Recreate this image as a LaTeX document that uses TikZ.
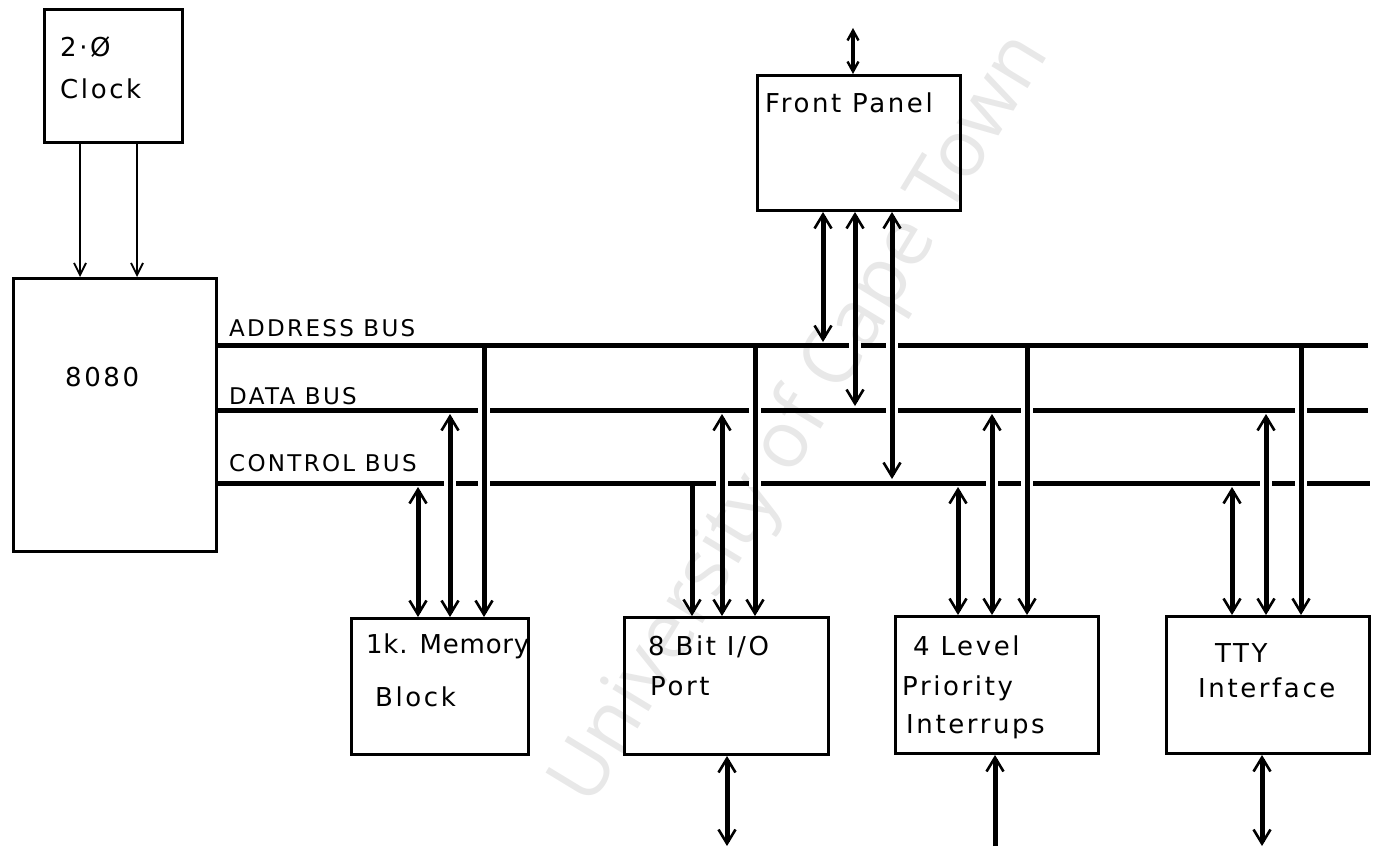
\documentclass[tikz,border=0pt]{standalone}
\usepackage{fontspec}
\setmainfont{DejaVu Sans}[LetterSpace=10]
\newfontfamily\wmfont{Open Sans}
\usetikzlibrary{arrows.meta}
\tikzset{
  box/.style={draw=black, line width=3pt, anchor=north west, inner sep=0pt},
  txt/.style={anchor=base west, inner sep=0pt, font=\fontsize{26}{30}\selectfont},
  buslbl/.style={anchor=base west, inner sep=0pt, font=\fontsize{23}{26}\selectfont},
  bus/.style={line width=5pt},
  drop/.style={line width=5pt},
  clk/.style={line width=2.2pt, -{Straight Barb[length=12pt,width=12pt,line width=1.8pt]}},
  toparrow/.style={line width=3.5pt, {Straight Barb[length=10pt,width=11pt,line width=2.4pt]}-{Straight Barb[length=10pt,width=11pt,line width=2.4pt]}},
  gap/.style={white, line width=8pt},
  wm/.style={font=\wmfont\fontsize{79}{84}\selectfont, text=black!9, rotate=58.7}
}
\begin{document}
\begin{tikzpicture}[x=1pt,y=-1pt, >={Straight Barb[length=14pt,width=17pt,line width=2.6pt]}]
\useasboundingbox (0,0) rectangle (1375,853);
% watermark
\node[wm] (wmark) at (802,420) {University of Cape Town};

% boxes
\node[box, minimum width=138, minimum height=133] (clock) at (43,8) {};
\node[box, minimum width=203, minimum height=273] (cpu) at (12,277) {};
\node[box, minimum width=203, minimum height=135] (fp) at (756,74) {};
\node[box, minimum width=177, minimum height=136] (mem) at (350,617) {};
\node[box, minimum width=204, minimum height=137] (io) at (623,616) {};
\node[box, minimum width=203, minimum height=137] (pri) at (894,615) {};
\node[box, minimum width=203, minimum height=137] (tty) at (1165,615) {};

% texts
\node[txt] (t1) at (60,57) {2·Ø};
\node[txt] (t2) at (60,99) {Clock};
\node[txt] (t3) at (65,386) {8080};
\node[txt] (t4) at (765,113) {Front Panel};
\node[txt] (t5) at (366,653) {\addfontfeatures{LetterSpace=3}1k. Memory};
\node[txt] (t6) at (375,706) {Block};
\node[txt] (t7) at (648,655) {8 Bit I/O};
\node[txt] (t8) at (650,695) {Port};
\node[txt] (t9) at (913,655) {4 Level};
\node[txt] (t10) at (902,695) {Priority};
\node[txt] (t11) at (906,733) {Interrups};
\node[txt] (t12) at (1215,662) {TTY};
\node[txt] (t13) at (1198,697) {Interface};
\node[buslbl] (la) at (229,336) {ADDRESS BUS};
\node[buslbl] (ld) at (229,404) {DATA BUS};
\node[buslbl] (lc) at (229,471) {CONTROL BUS};

% bus ends
\coordinate (ab) at (1368,345);
\coordinate (db) at (1368,410);
\coordinate (cb) at (1370,483);
\draw[bus] (cpu.east |- ab) -- (ab);
\draw[bus] (cpu.east |- db) -- (db);
\draw[bus] (cpu.east |- cb) -- (cb);

% crossing gaps
\foreach \px/\py in {484/410,484/483,755/410,755/483,1027/410,1027/483,1301/410,1301/483,
                     450/483,722/483,992/483,1266/483,855/345,892/345,892/410}
  \draw[gap] (\px-6,\py) -- (\px+6,\py);

% x positions
\coordinate (ck1) at (80,0);
\coordinate (ck2) at (137,0);
\coordinate (xmC) at (418,0);
\coordinate (xmD) at (450,0);
\coordinate (xmA) at (484,0);
\coordinate (xiC) at (692,0);
\coordinate (xiD) at (722,0);
\coordinate (xiA) at (755,0);
\coordinate (xpC) at (958,0);
\coordinate (xpD) at (992,0);
\coordinate (xpA) at (1027,0);
\coordinate (xtC) at (1232,0);
\coordinate (xtD) at (1266,0);
\coordinate (xtA) at (1301,0);
\coordinate (xfA) at (823,0);
\coordinate (xfD) at (855,0);
\coordinate (xfC) at (892,0);
\coordinate (fpTop) at (853,28);
\coordinate (ioOut) at (727,846);
\coordinate (priIn) at (995,846);
\coordinate (ttyOut) at (1262,846);

% clock to cpu
\draw[clk] (clock.south -| ck1) -- (cpu.north -| ck1);
\draw[clk] (clock.south -| ck2) -- (cpu.north -| ck2);

% front panel
\draw[toparrow] (fp.north -| fpTop) -- (fpTop);
\draw[drop,<->,shorten >=3pt] (fp.south -| xfA) -- (xfA |- ab);
\draw[drop,<->,shorten >=4pt] (fp.south -| xfD) -- (xfD |- db);
\draw[drop,<->,shorten >=4pt] (fp.south -| xfC) -- (xfC |- cb);

% memory
\draw[drop,<->,shorten <=4pt] (xmC |- cb) -- (mem.north -| xmC);
\draw[drop,<->,shorten <=4pt] (xmD |- db) -- (mem.north -| xmD);
\draw[drop,->] (xmA |- ab) -- (mem.north -| xmA);

% I/O
\draw[drop,->] (xiC |- cb) -- (io.north -| xiC);
\draw[drop,<->,shorten <=4pt] (xiD |- db) -- (io.north -| xiD);
\draw[drop,->] (xiA |- ab) -- (io.north -| xiA);
\draw[drop,<->] (io.south -| ioOut) -- (ioOut);

% priority
\draw[drop,<->,shorten <=4pt] (xpC |- cb) -- (pri.north -| xpC);
\draw[drop,<->,shorten <=4pt] (xpD |- db) -- (pri.north -| xpD);
\draw[drop,->] (xpA |- ab) -- (pri.north -| xpA);
\draw[drop,->] (priIn) -- (pri.south -| priIn);

% TTY
\draw[drop,<->,shorten <=4pt] (xtC |- cb) -- (tty.north -| xtC);
\draw[drop,<->,shorten <=4pt] (xtD |- db) -- (tty.north -| xtD);
\draw[drop,->] (xtA |- ab) -- (tty.north -| xtA);
\draw[drop,<->] (tty.south -| ttyOut) -- (ttyOut);
\end{tikzpicture}
\end{document}
